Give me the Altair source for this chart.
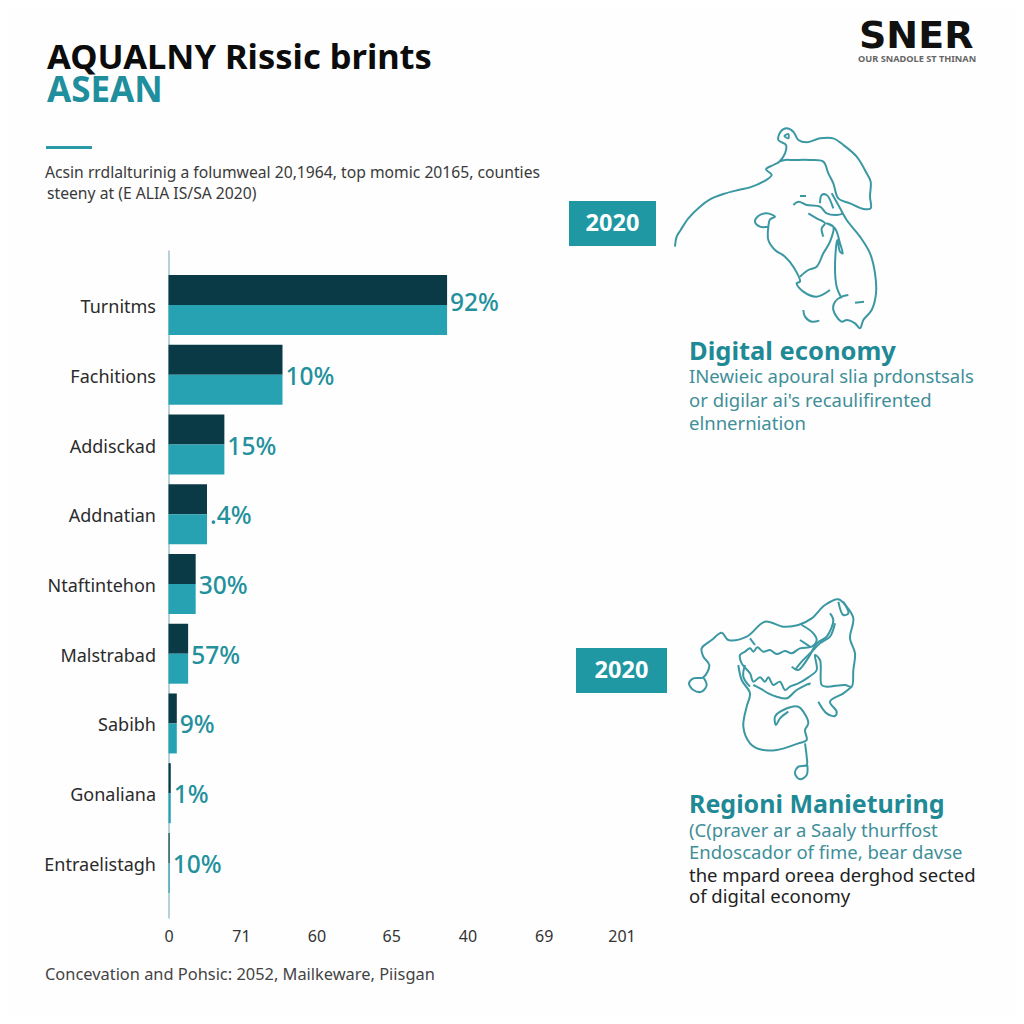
import altair as alt
import pandas as pd

# ---- chart values ----
categories = ["Turnitms", "Fachitions", "Addisckad", "Addnatian", "Ntaftintehon",
              "Malstrabad", "Sabibh", "Gonaliana", "Entraelistagh"]
dark_values = [3.69, 1.51, 0.74, 0.51, 0.36, 0.26, 0.11, 0.03, 0.015]
teal_values = [3.69, 1.51, 0.74, 0.51, 0.36, 0.26, 0.11, 0.03, 0.015]
value_labels = ["92%", "10%", "15%", ".4%", "30%", "57%", "9%", "1%", "10%"]
x_tick_labels = ["0", "71", "60", "65", "40", "69", "201"]
x_tick_values = [0, 0.96, 1.96, 2.95, 3.96, 4.97, 6]

# ---- outlines (crop coordinates, 3x) ----
map_1_paths = [
    [(45,410),(50,380),(62,360),(85,325),(120,290),(150,268),(190,252),(235,240),(270,232),(310,215),(335,195),(318,178),(340,165),(358,155),(375,130),(378,105),(355,90),(362,65),(380,55),(400,65),(415,90),(440,97),(480,85),(520,85),(550,105),(590,140),(620,190),(632,215),(630,260),(632,295),(610,297),(570,280),(535,265),(520,220),(505,190),(490,155),(450,150),(400,150),(375,150),(358,155)],
    [(515,250),(535,285),(560,330),(600,380),(630,430),(645,490),(648,550),(635,600),(610,630),(600,655),(585,640),(560,630),(545,635),(520,600),(525,575),(545,560),(565,555)],
    [(325,350),(300,350),(285,335),(295,318),(320,310),(345,320),(330,328),(325,350),(325,390),(345,420),(375,440),(400,470),(420,515),(410,520),(430,545),(470,560),(510,540)],
    [(420,500),(445,480),(470,470),(490,430),(510,395),(520,350),(500,340),(525,355),(540,400),(548,430),(540,425),(532,390),(525,470),(530,530),(545,565)],
    [(490,380),(485,355),(495,340),(470,325),(445,310)],
    [(400,285),(415,275),(440,285),(480,290),(500,310),(530,315),(550,310)],
    [(420,258),(438,258)],
    [(480,280),(485,255),(500,255),(520,295)],
    [(430,600),(435,620),(455,635),(478,632)],
    [(585,578),(612,575)],
    [(372,78),(385,72),(385,85),(372,78)],
]
map_2_paths = [
    [(100,262),(110,285),(95,305),(70,300),(57,280),(70,265),(100,262),(118,225),(100,200),(95,175),(125,150),(155,128),(175,150),(230,140),(285,95),(340,110),(385,105),(425,85),(465,45),(505,28),(530,50),(550,85),(540,145),(555,190),(550,240),(545,290),(525,285),(470,290),(455,285),(450,210),(435,195),(440,240),(415,262),(385,280),(360,290),(345,300),(330,275),(310,285),(295,262),(285,275),(270,262),(250,275),(240,250),(215,220),(210,195),(225,185),(240,175),(250,185),(262,172),(280,185),(300,180),(320,192),(345,183),(365,190),(390,175),(425,170),(440,150),(430,130),(395,105)],
    [(205,225),(215,270),(240,310),(230,350),(220,410),(240,460),(270,478),(320,480),(385,460),(410,450),(405,420),(415,400),(400,365),(385,350),(340,360),(315,380),(318,405),(330,385),(355,365)],
    [(405,460),(410,500),(410,525),(385,530),(375,550),(390,568),(410,555),(412,525)],
    [(445,335),(470,370),(495,378),(500,365),(480,335),(520,310),(545,290)],
    [(365,230),(385,240),(400,225),(420,195),(440,160),(470,140),(490,90),(480,70)],
    [(375,240),(395,215),(425,185),(450,160),(480,140),(495,100)],
    [(505,35),(520,75),(535,70),(520,35)],
    [(250,285),(270,295),(295,310),(320,320),(350,325),(380,300),(420,280),(415,285)],
    [(225,225),(220,260),(240,290)],
    [(240,145),(255,165)],
    [(390,150),(420,170)],
]

# ---- layout ----
ORIGIN_X, ORIGIN_Y = 168.5, 250
PAGE = 8
PLOT_W, PLOT_H = 453, 668
FONT = "Noto Sans"
DARK, TEAL, TEXT_TEAL, BADGE = "#0b3a47", "#27a2b3", "#23909c", "#1f98a3"

bars = pd.DataFrame(
    [{"category": c, "series": "a", "value": v} for c, v in zip(categories, dark_values)]
    + [{"category": c, "series": "b", "value": v} for c, v in zip(categories, teal_values)]
)
labels = pd.DataFrame({"category": categories, "value": dark_values, "label": value_labels})

rows = []
for name, paths, ox, oy in (("m1", map_1_paths, 660, 110), ("m2", map_2_paths, 670, 590)):
    for i, path in enumerate(paths):
        for j, (zx, zy) in enumerate(path):
            rows.append({"path": f"{name}-{i}", "idx": j, "px": ox + zx / 3, "py": oy + zy / 3})
outline = pd.DataFrame(rows)


def text(s, x, y, size, color, weight=400, font=FONT, align="left"):
    return alt.Chart(pd.DataFrame({"t": [s]})).mark_text(
        font=font, fontSize=size, fontWeight=weight, align=align, baseline="alphabetic", color=color
    ).encode(x=alt.value(x - ORIGIN_X), y=alt.value(y - ORIGIN_Y), text="t:N")


def box(x0, x1, y0, y1, color):
    return alt.Chart(pd.DataFrame({"a": [0]})).mark_rect(color=color).encode(
        x=alt.value(x0 - ORIGIN_X), x2=alt.value(x1 - ORIGIN_X),
        y=alt.value(y0 - ORIGIN_Y), y2=alt.value(y1 - ORIGIN_Y))


y_enc = alt.Y("category:N", sort=categories,
              scale=alt.Scale(paddingInner=0.14, paddingOuter=0.36),
              axis=alt.Axis(title=None, ticks=False, domainColor="#6ea6b0", domainWidth=1,
                            labelFont=FONT, labelFontSize=18, labelColor="#2b2b2b",
                            labelPadding=13, labelOffset=3))
x_scale = alt.Scale(domain=[0, 6], zero=False, nice=False)
label_expr = "[" + ",".join(f"'{t}'" for t in x_tick_labels) + "][round(datum.value)]"

bar_layer = alt.Chart(bars).mark_bar().encode(
    x=alt.X("value:Q", scale=x_scale,
            axis=alt.Axis(title=None, values=x_tick_values, labelExpr=label_expr, ticks=False,
                          domain=False, grid=False, labelFont=FONT, labelFontSize=16,
                          labelColor="#333333", labelPadding=10, labelFlush=False)),
    y=y_enc,
    yOffset=alt.YOffset("series:N", sort=["a", "b"]),
    color=alt.Color("series:N", scale=alt.Scale(domain=["a", "b"], range=[DARK, TEAL]), legend=None),
)


def value_text(data, dy):
    return alt.Chart(data).mark_text(
        font=FONT, fontSize=24.5, fontWeight=500, align="left", baseline="middle",
        dx=3, dy=dy, color=TEXT_TEAL
    ).encode(x=alt.X("value:Q", scale=x_scale), y=y_enc, text="label:N")


value_first = value_text(labels.iloc[:1], -1)
value_rest = value_text(labels.iloc[1:], 3)

map_layer = alt.Chart(outline).mark_line(
    color="#3b98a3", strokeWidth=2, interpolate="catmull-rom"
).encode(
    x=alt.X("px:Q", axis=None, scale=alt.Scale(domain=[0, 1024], range=[-ORIGIN_X, 1024 - ORIGIN_X], zero=False, nice=False)),
    y=alt.Y("py:Q", axis=None, scale=alt.Scale(domain=[0, 1024], range=[-ORIGIN_Y, 1024 - ORIGIN_Y], zero=False, nice=False)),
    detail="path:N",
    order="idx:Q",
)

annotations = [
    text("AQUALNY Rissic brints", 47, 69, 34.5, "#0c0c0c", 700),
    text("ASEAN", 47, 102, 35, "#1f8f9e", 700),
    box(46, 92, 146, 149, "#2a9aa8"),
    text("Acsin rrdlalturinig a folumweal 20,1964, top momic 20165, counties", 45, 178, 15.7, "#3a3a3a"),
    text("steeny at (E ALIA IS/SA 2020)", 47, 199, 15.7, "#3a3a3a"),
    text("SNER", 859, 48, 38, "#111111", 700, "DejaVu Sans"),
    text("OUR SNADOLE ST THINAN", 858, 61.5, 9.2, "#666666", 700),
    box(569, 656, 201, 246, BADGE),
    text("2020", 612.5, 231, 23.5, "#ffffff", 700, align="center"),
    box(576, 667, 648, 693, BADGE),
    text("2020", 621.5, 678, 23.5, "#ffffff", 700, align="center"),
    text("Digital economy", 689, 360, 25.5, "#1f8a96", 700),
    text("INewieic apoural slia prdonstsals", 689, 383, 18.5, "#3f8f99"),
    text("or digilar ai's recaulifirented", 689, 407, 18.5, "#3f8f99"),
    text("elnnerniation", 689, 430, 18.5, "#3f8f99"),
    text("Regioni Manieturing", 689, 813, 25, "#1f8a96", 700),
    text("(C(praver ar a Saaly thurffost", 689, 837, 18.5, "#3f8f99"),
    text("Endoscador of fime, bear davse", 689, 859, 18.5, "#3f8f99"),
    text("the mpard oreea derghod sected", 689, 882, 18.5, "#222222"),
    text("of digital economy", 689, 903, 18.5, "#222222"),
    text("Concevation and Pohsic: 2052, Mailkeware, Piisgan", 45, 980, 16.4, "#444444"),
]

chart = alt.layer(
    alt.layer(bar_layer, value_first, value_rest),
    map_layer,
    *annotations,
).resolve_scale(x="independent", y="independent").properties(
    width=PLOT_W,
    height=PLOT_H,
    background="#fefefe",
    autosize=alt.AutoSizeParams(type="none"),
    padding={"left": ORIGIN_X - PAGE, "top": ORIGIN_Y - PAGE,
             "right": 1008 - (ORIGIN_X - PAGE) - PLOT_W, "bottom": 1008 - (ORIGIN_Y - PAGE) - PLOT_H},
).configure_view(stroke=None)

chart.save("out.html", embed_options={"renderer": "svg", "actions": False})
